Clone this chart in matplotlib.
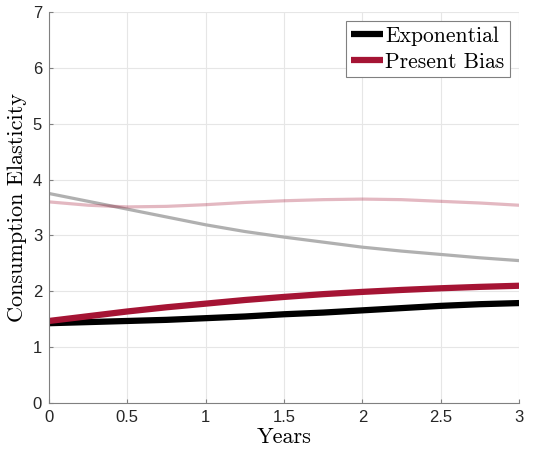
import matplotlib
matplotlib.use("Agg")
import matplotlib.pyplot as plt
import numpy as np

years = [0, 0.25, 0.5, 0.75, 1.0, 1.25, 1.5, 1.75, 2.0, 2.25, 2.5, 2.75, 3.0]
exponential = [1.43, 1.45, 1.47, 1.49, 1.52, 1.55, 1.59, 1.62, 1.66, 1.70, 1.74, 1.77, 1.79]
present_bias = [1.47, 1.555, 1.64, 1.715, 1.78, 1.845, 1.90, 1.95, 1.99, 2.025, 2.055, 2.08, 2.10]
exp_light = [3.75, 3.61, 3.47, 3.33, 3.19, 3.07, 2.97, 2.88, 2.79, 2.72, 2.66, 2.60, 2.55]
pb_light = [3.60, 3.54, 3.51, 3.52, 3.55, 3.59, 3.62, 3.64, 3.65, 3.64, 3.61, 3.58, 3.54]

labels = ["Exponential", "Present Bias"]
crimson = "#A51434"

fig = plt.figure(figsize=(5.51, 4.54), dpi=100)
ax = fig.add_axes([0.089, 0.112, 0.853, 0.862])

ax.plot(years, exp_light, color="#B0B0B0", lw=2.3, solid_capstyle="butt")
ax.plot(years, pb_light, color=crimson, alpha=0.3, lw=2.3, solid_capstyle="butt")
ax.plot(years, exponential, color="black", lw=4.5, label=labels[0], solid_capstyle="butt")
ax.plot(years, present_bias, color=crimson, lw=4.5, label=labels[1], solid_capstyle="butt")

ax.set_xlim(0, 3)
ax.set_ylim(0, 7)
ax.set_xticks([0, 0.5, 1, 1.5, 2, 2.5, 3])
ax.set_xticklabels(["0", "0.5", "1", "1.5", "2", "2.5", "3"])
ax.set_yticks(range(8))
ax.grid(True, color="#E6E6E6", lw=0.8)
ax.set_axisbelow(True)
for s in ["top", "right"]:
    ax.spines[s].set_visible(False)
for s in ["left", "bottom"]:
    ax.spines[s].set_color("#808080")
    ax.spines[s].set_linewidth(0.8)
ax.tick_params(direction="in", length=3, color="#808080", labelsize=12,
               labelcolor="#262626", pad=5)
for lab in ax.get_xticklabels() + ax.get_yticklabels():
    lab.set_family("Liberation Sans")

ax.set_xlabel("Years", family="cmr10", fontsize=16, labelpad=2)
ax.set_ylabel("Consumption Elasticity", family="cmr10", fontsize=16, labelpad=4)

leg = ax.legend(loc="upper right", bbox_to_anchor=(0.981, 0.977),
                prop={"family": "cmr10", "size": 15.5},
                fancybox=False, edgecolor="#808080", framealpha=1,
                handlelength=1.5, handletextpad=0.1, borderpad=0.25,
                labelspacing=0.3, borderaxespad=0.0)
leg.get_frame().set_linewidth(0.8)

fig.savefig("out.png", dpi=100)
